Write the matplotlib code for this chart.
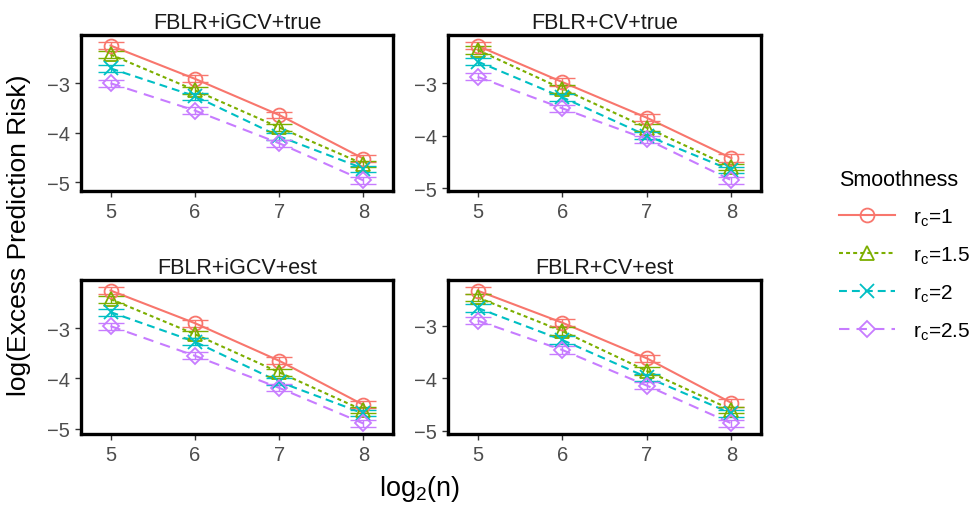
import matplotlib
matplotlib.use("Agg")
import matplotlib.pyplot as plt
from matplotlib.lines import Line2D

plt.rcParams['font.family'] = ['Liberation Sans', 'DejaVu Sans']
plt.rcParams['mathtext.fontset'] = 'custom'
plt.rcParams['mathtext.rm'] = 'Liberation Sans'
plt.rcParams['mathtext.it'] = 'Liberation Sans'

log2n = [5, 6, 7, 8]
series = ["r$_\\mathrm{c}$=1", "r$_\\mathrm{c}$=1.5", "r$_\\mathrm{c}$=2", "r$_\\mathrm{c}$=2.5"]
panels = ["FBLR+iGCV+true", "FBLR+CV+true", "FBLR+iGCV+est", "FBLR+CV+est"]

risk_igcv_true = [[-2.24, -2.91, -3.64, -4.52],
                  [-2.42, -3.14, -3.89, -4.63],
                  [-2.70, -3.26, -4.07, -4.72],
                  [-3.00, -3.55, -4.21, -4.96]]
risk_cv_true = [[-2.29, -2.98, -3.66, -4.43],
                [-2.37, -3.11, -3.85, -4.60],
                [-2.59, -3.27, -4.00, -4.66],
                [-2.88, -3.48, -4.07, -4.85]]
risk_igcv_est = [[-2.25, -2.90, -3.65, -4.53],
                 [-2.42, -3.12, -3.88, -4.64],
                 [-2.68, -3.27, -4.07, -4.70],
                 [-2.96, -3.55, -4.19, -4.90]]
risk_cv_est = [[-2.33, -2.94, -3.62, -4.47],
               [-2.46, -3.10, -3.86, -4.60],
               [-2.66, -3.27, -3.98, -4.67],
               [-2.90, -3.46, -4.14, -4.86]]
risk_err = [[0.07, 0.07, 0.07, 0.07],
            [0.07, 0.07, 0.07, 0.06],
            [0.07, 0.07, 0.07, 0.06],
            [0.07, 0.07, 0.07, 0.07]]

all_risk = [risk_igcv_true, risk_cv_true, risk_igcv_est, risk_cv_est]

colors = ["#F8766D", "#7CAE00", "#00BFC4", "#C77CFF"]
markers = ["o", "^", "x", "D"]
msizes = [10, 10, 10, 7.8]
dashes = [None, (1.9, 1.5), (3.8, 2.4), (5.0, 3.4)]
LW = 1.5

W, H = 974, 506
fig = plt.figure(figsize=(W / 100, H / 100), dpi=100)

boxes = [(81, 36, 312, 156), (448, 36, 313, 156), (81, 281, 312, 154), (448, 281, 313, 154)]

for k, (px, py, pw, ph) in enumerate(boxes):
    ax = fig.add_axes([px / W, 1 - (py + ph) / H, pw / W, ph / H])
    data = all_risk[k]
    lo = min(min(v - e for v, e in zip(data[i], risk_err[i])) for i in range(4))
    hi = max(max(v + e for v, e in zip(data[i], risk_err[i])) for i in range(4))
    pad = 0.05 * (hi - lo)
    for i in range(4):
        ls = '-' if dashes[i] is None else (0, dashes[i])
        ax.plot(log2n, data[i], color=colors[i], lw=LW, linestyle=ls, zorder=2)
        ax.errorbar(log2n, data[i], yerr=risk_err[i], fmt='none', ecolor=colors[i],
                    elinewidth=1.0, capsize=9.5, capthick=1.0, zorder=3)
        ax.plot(log2n, data[i], linestyle='none', marker=markers[i], ms=msizes[i],
                mfc='none', mec=colors[i], mew=1.3, zorder=4)
    ax.set_xlim(4.65, 8.35)
    ax.set_ylim(lo - pad, hi + pad)
    ax.set_xticks(log2n)
    ax.set_yticks([-3, -4, -5])
    ax.set_yticklabels(["\u22123", "\u22124", "\u22125"])
    for s in ax.spines.values():
        s.set_linewidth(2.4)
        s.set_color('black')
    ax.tick_params(axis='both', length=4, width=1.0, color='#333333',
                   labelsize=14.5, labelcolor='#4D4D4D', direction='out', pad=4)
    ax.set_title(panels[k], fontsize=15.5, pad=5, color='#1A1A1A')

fig.text(420 / W, 1 - 489 / H, "log$_2$(n)", ha='center', va='center', fontsize=19.5)
fig.text(19 / W, 1 - 235 / H, "log(Excess Prediction Risk)", ha='center', va='center',
         fontsize=19, rotation=90)

handles = []
for i in range(4):
    ls = '-' if dashes[i] is None else (0, dashes[i])
    handles.append(Line2D([0], [0], color=colors[i], lw=LW, linestyle=ls,
                          marker=markers[i], ms=msizes[i], mfc='none', mec=colors[i], mew=1.3))
leg = fig.legend(handles, series, loc='upper left', bbox_to_anchor=(839 / W, 1 - 170 / H),
                 frameon=False, fontsize=15, title="Smoothness", title_fontsize=15.5,
                 handlelength=2.7, labelspacing=0.8, handletextpad=0.85,
                 borderpad=0, borderaxespad=0)
leg._legend_box.align = "left"

fig.savefig("out.png", dpi=100)
